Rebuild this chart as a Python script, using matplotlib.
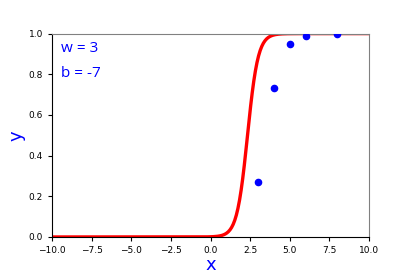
import numpy as np
import matplotlib
matplotlib.use("Agg")
import matplotlib.pyplot as plt

w = 3
b = -7
pts_x = [3, 4, 5, 6, 8]
pts_y = [0.27, 0.73, 0.95, 0.99, 1.0]

xs = np.linspace(-10, 10, 400)
ys = 1 / (1 + np.exp(-(w * xs + b)))

fig = plt.figure(figsize=(4.1, 2.73), dpi=100)
ax = fig.add_axes([0.127, 0.132, 0.773, 0.745])
ax.plot(xs, ys, color="red", lw=2.4)
ax.scatter(pts_x, pts_y, color="blue", s=20, zorder=3)
ax.set_xlim(-10, 10)
ax.set_ylim(0, 1)
ax.set_xticks(np.arange(-10, 10.1, 2.5))
ax.set_yticks(np.arange(0, 1.01, 0.2))
ax.tick_params(labelsize=6.5, length=3)
ax.spines["top"].set_color("gray")
ax.spines["right"].set_color("gray")
ax.set_xlabel("x", color="blue", fontsize=13, labelpad=1)
ax.set_ylabel("y", color="blue", fontsize=13, labelpad=2)
ax.text(0.027, 0.925, f"w = {w}", transform=ax.transAxes, color="blue", fontsize=11,
        family="Open Sans", va="center")
ax.text(0.027, 0.805, f"b = {b}", transform=ax.transAxes, color="blue", fontsize=11,
        family="Open Sans", va="center")
fig.savefig("out.png", dpi=100)
